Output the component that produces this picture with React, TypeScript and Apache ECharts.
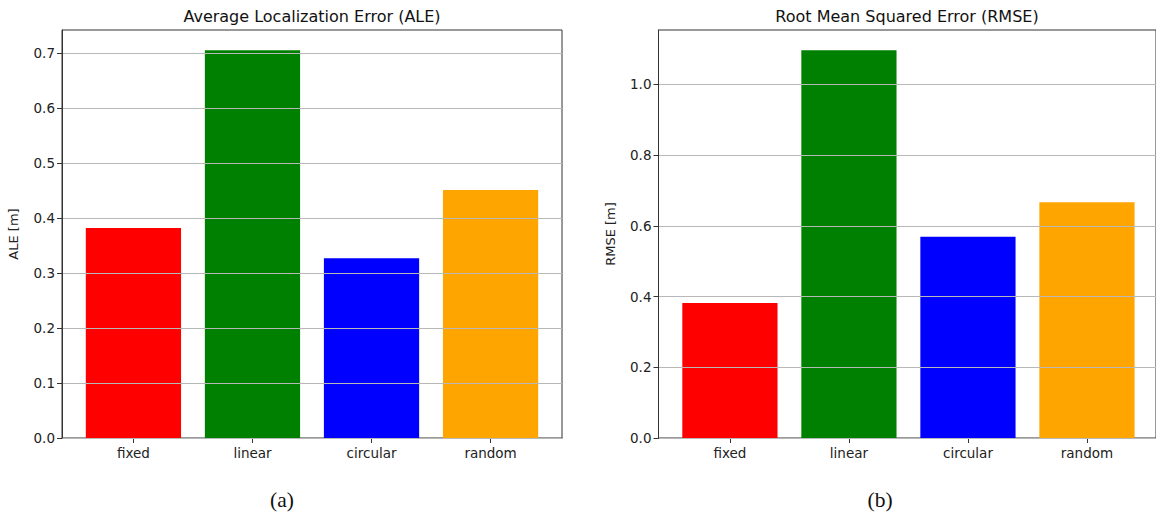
import React, { useEffect, useRef } from "react";
import * as echarts from "echarts";

const categories = ["fixed", "linear", "circular", "random"];
const barColors = ["#ff0000", "#008000", "#0000ff", "#ffa500"];
const aleValues = [0.382, 0.705, 0.327, 0.451];
const rmseValues = [0.382, 1.097, 0.569, 0.667];
const aleTicks = [0, 0.1, 0.2, 0.3, 0.4, 0.5, 0.6, 0.7];
const rmseTicks = [0, 0.2, 0.4, 0.6, 0.8, 1.0];

const FONT = "DejaVu Sans";

function makeX(gridIndex: number, max: number) {
  return {
    type: "value" as const,
    gridIndex,
    min: -0.6,
    max,
    axisLine: { show: true, onZero: false, lineStyle: { color: "#333", width: 1 } },
    axisTick: { show: true, customValues: [0, 1, 2, 3], length: 5, lineStyle: { color: "#333" } },
    axisLabel: {
      customValues: [0, 1, 2, 3],
      formatter: (v: number) => categories[Math.round(v)] ?? "",
      color: "#222",
      fontFamily: FONT,
      fontSize: 13.5,
      margin: 8,
    },
    splitLine: { show: false },
  };
}

function makeY(gridIndex: number, max: number, interval: number, ticks: number[], name: string) {
  return {
    type: "value" as const,
    gridIndex,
    min: 0,
    max,
    interval,
    z: 5,
    name,
    nameLocation: "middle" as const,
    nameRotate: 90,
    nameGap: 42,
    nameTextStyle: { fontFamily: FONT, fontSize: 13, color: "#222" },
    axisLine: { show: true, onZero: false, lineStyle: { color: "#333", width: 1 } },
    axisTick: { show: true, customValues: ticks, length: 5, lineStyle: { color: "#333" } },
    axisLabel: {
      customValues: ticks,
      formatter: (v: number) => v.toFixed(1),
      color: "#222",
      fontFamily: FONT,
      fontSize: 13.5,
      margin: 7,
    },
    splitLine: { show: true, lineStyle: { color: "#b8b8b8", width: 1 } },
  };
}

function barData(values: number[]) {
  return values.map((v, i) => ({ value: [i, v], itemStyle: { color: barColors[i] } }));
}

function text(str: string, x: number, y: number, font: string, size: number) {
  return {
    type: "text",
    x,
    y,
    style: {
      text: str,
      fontFamily: font,
      fontSize: size,
      fill: "#111",
      textAlign: "center",
      textVerticalAlign: "middle",
    },
  };
}

export default function App() {
  const ref = useRef<HTMLDivElement>(null);
  useEffect(() => {
    if (!ref.current) return;
    const chart = echarts.init(ref.current, undefined, { renderer: "svg" });
    chart.setOption({
      animation: false,
      backgroundColor: "#ffffff",
      graphic: [
        text("Average Localization Error (ALE)", 312, 16, FONT, 16),
        text("Root Mean Squared Error (RMSE)", 907, 16, FONT, 16),
        text("(a)", 282, 500, "Liberation Serif", 21.5),
        text("(b)", 880, 500, "Liberation Serif", 21.5),
      ],
      grid: [
        { left: 62, top: 30, width: 500, height: 408, show: true, borderColor: "#333", borderWidth: 1, backgroundColor: "transparent" },
        { left: 658.5, top: 30, width: 499.5, height: 408, show: true, borderColor: "#333", borderWidth: 1, backgroundColor: "transparent" },
      ],
      xAxis: [makeX(0, 3.6), makeX(1, 3.58)],
      yAxis: [
        makeY(0, 0.742, 0.1, aleTicks, "ALE [m]"),
        makeY(1, 1.154, 0.2, rmseTicks, "RMSE [m]"),
      ],
      series: [
        { type: "bar", xAxisIndex: 0, yAxisIndex: 0, barWidth: "80%", data: barData(aleValues) },
        { type: "bar", xAxisIndex: 1, yAxisIndex: 1, barWidth: "80%", data: barData(rmseValues) },
      ],
    });
    return () => chart.dispose();
  }, []);
  return (
    <div
      ref={ref}
      style={{ position: "fixed", left: 0, top: 0, width: 1156, height: 513, background: "#fff" }}
    />
  );
}
